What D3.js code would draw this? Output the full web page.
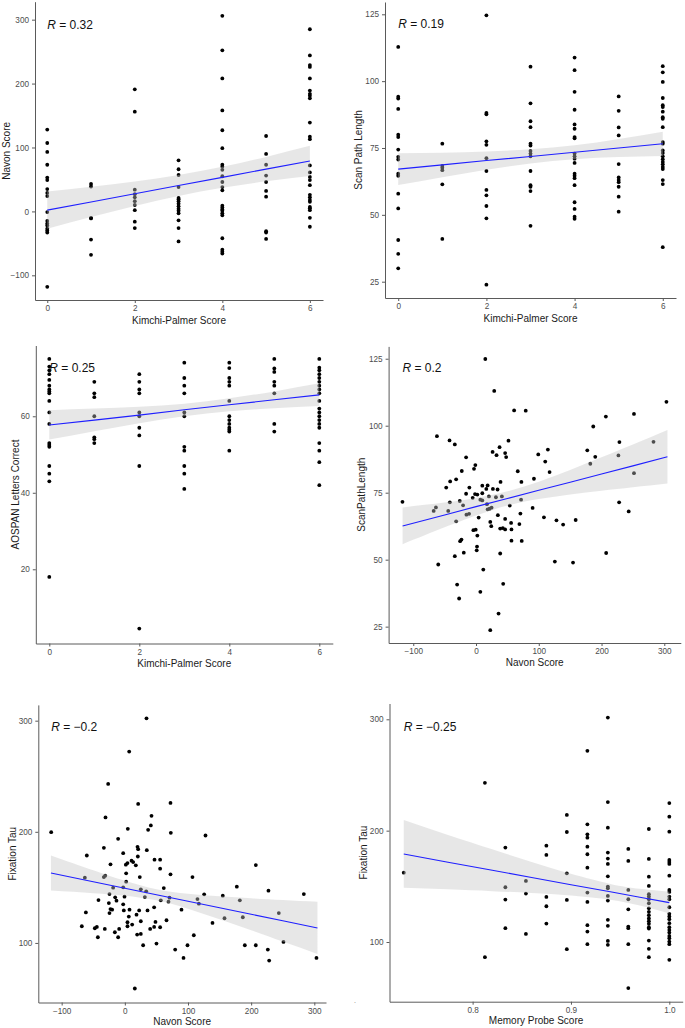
<!DOCTYPE html>
<html><head><meta charset="utf-8">
<script src="https://cdn.jsdelivr.net/npm/d3@7"></script>
<style>body{margin:0;background:#fff}svg{display:block}text{font-family:"Liberation Sans",Arial,sans-serif}</style>
</head><body><svg id="c" width="685" height="1028"></svg>
<script>
// ---------- DATA ----------
const kpLevels = [0,1,2,3,4,5,6];
const navonByKP = [
  [128,107,93,73,53,49,35,29,24,-1,-15,-19,-22,-27,-30,-33,-118],
  [43,39,-10,-11,-44,-68],
  [191,156,34,27,22,16,10,2,-16,-26],
  [80,66,57,38,21,19,16,12,8,4,1,-3,-14,-26,-47],
  [306,252,208,158,127,99,73,70,65,55,46,38,33,9,6,3,1,-3,-6,-42,-60,-63,-66],
  [118,90,73,56,46,32,23,-31,-33,-43],
  [285,244,229,226,208,189,184,181,177,139,117,113,72,61,54,49,41,26,22,18,15,7,5,2,-10,-24]
];
const scanByKP = [
  [112.8,94.2,93.5,89.6,80,79.1,74.4,71.7,70.7,65.4,64.6,57.9,52.4,40.6,35.4,30],
  [76.6,68.3,67.6,66.7,61.4,41],
  [124.6,88.1,87.6,77.5,76.2,71.2,66.4,59.3,57.3,53.3,48.7,23.9],
  [105.4,91.7,85,82.8,76.6,75.9,73.9,72.9,71.9,66.4,61.1,60.5,58.9,45.9],
  [108.8,104.1,96,89.3,83.8,82.2,79.1,78.6,72.9,71.9,71,69.4,65.4,64.6,63.7,61.1,54.7,52.2,49.3,48.5],
  [94.3,88.9,82.7,79.7,69,64,63,62.2,60.5,56.8,51.2],
  [105.6,103.3,99.7,93.7,91,90.3,88.6,86.5,85.9,82.8,77.2,76.6,74.1,73.1,71.9,70.8,69.8,68.9,67.9,67.1,63,61.5,37.9]
];
const aospanByKP = [
  [75,73,72,71,69.5,68,67,66.5,66,64,61,58,53,52.5,52,47,45,43,18],
  [69,66,65,60,54.5,54,53],
  [71,69,67,66,61,60,57,55,47,4.5],
  [74,70,68,66,61,60,52,51,47,45,41],
  [74,72.6,70,69,68,64,60,59,58,57,56.5,56,51],
  [75,72.5,71.6,69,68,66,58,56],
  [75,72.7,72,71,70,69,68,67,66,64,62,61,60,59,58,57,53,51,48,42]
];
const navon4 = [-62.3,-42.2,-33.8,51.7,37.5,26.4,32.7,46.4,48.0,-15.8,
  -1.1,-3.2,-22.7,66.5,-41.2,-31.7,-47.5,-10.6,10.0,18.5,
  16.4,39.1,72.3,92.3,-15.8,-1.6,2.1,10.0,-5.3,6.9,
  10.0,20.6,31.7,41.2,26.9,34.3,-117.2,-41.7,-25.9,-20.6,
  -63.9,-67.5,-44.3,-31.7,-15.3,-11.1,17.4,21.6,24.8,18.5,
  71.8,53.8,90.2,4.2,34.8,46.4,70.7,22.7,24.3,55.9,
  69.1,38.5,42.7,46.4,56.5,-4.2,-0.5,2.1,-23.2,-25.3,
  56.5,72.8,1.6,1.1,-19.5,-33.8,38.5,-60.2,11.6,-30.1,
  14.8,29.0,60.7,79.2,6.9,43.3,-26.9,35.9,22.7,99.2,
  110.3,114.5,117.2,108.2,125.6,128.2,138.8,154.6,158.8,177.3,
  182.1,186.8,190.0,206.9,207.4,228.0,228.5,226.9,243.3,251.7,
  251.7,282.8,303.4];
const scan4 = [96.1,94.5,93.0,94.4,92.0,90.2,89.0,89.8,88.3,88.2,
  85.3,83.9,83.1,83.0,79.2,80.0,76.9,76.9,77.6,77.7,
  76.4,79.0,79.0,80.2,74.6,74.5,74.3,74.8,73.1,72.4,
  72.1,73.6,73.3,73.6,76.4,76.2,71.6,71.4,71.9,70.3,
  69.5,68.2,68.2,64.3,66.8,67.1,70.7,69.0,69.4,68.8,
  72.4,70.2,69.3,65.7,66.6,65.2,67.2,64.1,62.5,63.7,
  63.3,61.6,61.8,61.3,61.3,61.0,61.2,59.0,57.5,56.9,
  57.1,57.0,54.9,53.5,52.6,51.3,52.3,48.2,46.3,40.7,
  124.9,113.0,105.7,105.6,38.0,41.0,35.5,29.9,23.7,89.3,
  86.6,91.1,82.7,65.8,49.3,64.7,63.1,48.9,64.8,90.8,
  85.8,99.7,88.4,103.4,52.5,71.4,93.9,88.9,68.0,104.4,
  82.3,94.0,108.9];
const navon5 = [21.1,72.3,-30.6,42.2,41.2,36.9,4.7,72.8,127.7,-10.6,
  -60.2,-33.2,20.1,21.1,34.8,-2.6,20.6,-22.7,1.6,4.2,
  10.6,13.2,17.4,47.0,55.9,55.9,2.1,72.3,107.1,23.7,
  -63.3,-33.2,-31.1,2.1,-18.5,-2.6,25.3,33.8,61.7,-24.3,
  -0.5,31.7,57.0,70.7,69.1,115.0,125.6,155.1,-41.7,-25.3,
  -15.3,-13.2,-2.6,46.4,-22.7,-20.1,22.7,35.9,-1.6,7.4,
  -61.7,-24.3,89.7,117.2,18.5,6.3,25.3,48.5,66.0,-68.1,
  -47.5,-44.3,-31.7,-9.0,4.2,4.2,11.6,46.4,55.9,40.1,
  -15.8,-42.7,-10.6,19.5,25.3,109.2,138.8,157.8,34.3,6.9,
  -26.4,-116.6,207.4,177.3,182.1,186.8,190.0,207.4,227.4,226.4,
  228.5,243.8,251.2,283.4,303.4,92.9,99.2,79.7,29.0,50.1,15.8];
const tau5 = [225.1,226.0,212.9,214.4,205.7,201.8,202.7,199.1,196.7,193.7,
  178.7,185.6,186.5,184.4,183.5,180.8,177.8,170.7,170.4,171.9,
  174.0,172.8,169.8,174.9,174.9,166.8,162.6,161.7,159.3,159.3,
  158.7,159.3,160.5,155.1,149.7,150.0,148.2,146.4,149.4,144.0,
  141.6,141.3,138.3,140.7,137.1,139.5,143.7,142.5,138.6,135.9,
  141.0,138.0,134.7,132.0,130.5,129.9,129.3,129.3,129.3,129.9,
  127.5,126.9,129.9,135.3,125.4,123.7,119.5,118.9,120.4,115.0,
  113.2,114.4,112.6,112.6,118.6,115.0,116.5,114.4,114.1,112.6,
  109.6,105.1,105.1,107.5,108.1,106.9,118.0,122.2,302.1,272.2,
  243.1,199.7,170.1,150.6,138.3,123.1,97.9,97.9,147.0,94.0,
  84.1,126.9,100.9,144.0,86.5,86.5,97.9,94.0,97.9,99.4,59.0];
const probeLevels = [0.73,0.8125,0.8333,0.8542,0.875,0.8958,0.9167,0.9375,0.9583,0.9792,1.0];
const tauByProbe = [
  [162.3],
  [243.0,86.4],
  [184.8,149.2,138.1,112.4],
  [154.9,143.5,107.3],
  [186.5,178.2,140.5,132.1,116.6],
  [214.1,198.8,161.7,137.8,93.6],
  [271.7,205.7,196.7,193.7,185.6,178.8,166.8,144.4,136.0,115.1,109.4,98.1],
  [301.6,225.7,202.7,180.3,174.9,170.1,159.0,149.8,148.3,141.4,137.2,119.9,114.5,101.0,97.5],
  [183.6,172.8,146.8,138.4,129.4,113.9,112.4,98.1,58.6],
  [201.5,174.6,158.7,150.4,142.9,140.8,138.4,134.8,130.3,127.1,124.1,121.1,118.7,116.3,113.3,112.1,101.3,93.9,86.4],
  [224.8,212.6,199.1,173.7,171.9,170.1,159.6,146.8,145.0,140.8,138.4,131.2,125.3,122.9,120.5,116.9,113.3,110.9,108.5,105.5,103.4,100.4,98.1,84.0]
];
// fitted lines and 95% bands
const fitKPX = [0,1,2,3,4,5,6];
const fit1Y = [2,14.8,27.7,40.5,53.3,66.2,79], fit1Lo = [-27,-8.8,8.6,24.1,36.9,47.1,55.4], fit1Hi = [31,38.4,46.8,56.9,69.7,85.3,102.6];
const fit2Y = [67.1,68.7,70.3,71.8,73.4,75.0,76.6], fit2Lo = [61.2,64.1,66.9,69.2,70.8,71.6,72.0], fit2Hi = [73.0,73.2,73.7,74.5,76.0,78.4,81.1];
const fit3Y = [57.7,59.0,60.3,61.7,63.0,64.3,65.6], fit3Lo = [53.9,56.1,58.2,60.0,61.3,62.1,62.7], fit3Hi = [61.6,62.0,62.5,63.3,64.7,66.5,68.6];
const fitNavX = [-117,-50,0,50,100,150,200,250,305];
const fit4Y = [62.6,66.7,69.8,72.8,75.9,78.9,82.0,85.0,88.4], fit4Lo = [55.8,62.1,66.5,70.2,72.6,74.3,75.7,77.0,78.4], fit4Hi = [69.5,71.3,73.0,75.5,79.1,83.5,88.2,93.0,98.4];
const fit5Y = [162.9,155.1,149.2,143.3,137.5,131.6,125.8,119.9,113.5], fit5Lo = [147.1,144.8,142.5,138.3,130.8,121.3,111.4,101.2,90.0], fit5Hi = [178.7,165.4,155.9,148.3,144.2,141.9,140.2,138.6,137.0];
const fitProbeX = [0.73,0.775,0.82,0.86,0.90,0.94,0.97,1.0];
const fit6Y = [179.1,171.7,164.4,158.0,151.5,145.1,140.2,135.4], fit6Lo = [148.8,147.3,145.7,144.0,141.8,137.9,132.7,125.7], fit6Hi = [209.5,196.1,183.2,171.9,161.2,152.2,147.8,145.1];
const rLabels = ["0.32","0.19","0.25","0.2","\u22120.2","\u22120.25"];
const xTitles = ["Kimchi-Palmer Score","Kimchi-Palmer Score","Kimchi-Palmer Score","Navon Score","Navon Score","Memory Probe Score"];
const yTitles = ["Navon Score","Scan Path Length","AOSPAN Letters Correct","ScanPathLength","Fixation Tau","Fixation Tau"];
const kpTicks = [0,2,4,6], navTicks = [-100,0,100,200,300], probeTicks = [0.8,0.9,1.0];
const navonYTicks = [-100,0,100,200,300], scanTicks = [25,50,75,100,125], aospanTicks = [20,40,60], tauTicks = [100,200,300];

// ---------- HELPERS ----------
function flat(levels, cols){ const o=[]; levels.forEach((l,i)=>cols[i].forEach(v=>o.push([l,v]))); return o; }
function zip(a,b){ return a.map((v,i)=>[v,b[i]]); }
function band(xs,y,lo,hi){ return xs.map((x,i)=>({x:x,y:y[i],lo:lo[i],hi:hi[i]})); }

const panels = [
 {pts:flat(kpLevels,navonByKP), fit:band(fitKPX,fit1Y,fit1Lo,fit1Hi), xd:[-0.28,6.3], xr:[35,323], yd:[-138.6,328.1], yr:[300,1.7], xt:kpTicks, yt:navonYTicks, xf:d3.format("d"), xTY:320, yTX:6},
 {pts:flat(kpLevels,scanByKP), fit:band(fitKPX,fit2Y,fit2Lo,fit2Hi), xd:[-0.3,6.3], xr:[385,676], yd:[18.9,129.6], yr:[298,2], xt:kpTicks, yt:scanTicks, xf:d3.format("d"), xTY:318.5, yTX:358},
 {pts:flat(kpLevels,aospanByKP), fit:band(fitKPX,fit3Y,fit3Lo,fit3Hi), xd:[-0.3,6.3], xr:[35.8,332.8], yd:[0.6,78.5], yr:[643.5,345.5], xt:kpTicks, yt:aospanTicks, xf:d3.format("d"), xTY:663.3, yTX:15},
 {pts:zip(navon4,scan4), fit:band(fitNavX,fit4Y,fit4Lo,fit4Hi), xd:[-139.3,326.3], xr:[388.6,680.8], yd:[18.9,129.6], yr:[643,346.4], xt:navTicks, yt:scanTicks, xf:d3.format("d"), xTY:662.3, yTX:361.5},
 {pts:zip(navon5,tau5), fit:band(fitNavX,fit5Y,fit5Lo,fit5Hi), xd:[-137,318.5], xr:[38.3,326], yd:[46.4,314.2], yr:[1002.5,704.9], xt:navTicks, yt:tauTicks, xf:d3.format("d"), xTY:1021.5, yTX:12},
 {pts:flat(probeLevels,tauByProbe), fit:band(fitProbeX,fit6Y,fit6Lo,fit6Hi), xd:[0.7155,1.0136], xr:[389.5,682.7], yd:[46.4,314.2], yr:[1001.7,703.5], xt:probeTicks, yt:tauTicks, xf:d3.format(".1f"), xTY:1020.5, yTX:363}
];

const svg = d3.select("#c");
const FONT = '"Liberation Sans", Arial, sans-serif';

panels.forEach((p,i)=>{
  const x = d3.scaleLinear().domain(p.xd).range(p.xr);
  const y = d3.scaleLinear().domain(p.yd).range(p.yr);
  const g = svg.append("g");

  // points
  g.append("g").selectAll("circle").data(p.pts).join("circle")
    .attr("cx",d=>x(d[0])).attr("cy",d=>y(d[1])).attr("r",1.9).attr("fill","#000");

  // confidence band (drawn over points, as in ggplot)
  g.append("path").datum(p.fit)
    .attr("d", d3.area().x(d=>x(d.x)).y0(d=>y(d.lo)).y1(d=>y(d.hi)).curve(d3.curveNatural))
    .attr("fill","#c4c4c4").attr("fill-opacity",0.4);

  // regression line
  g.append("path").datum(p.fit)
    .attr("d", d3.line().x(d=>x(d.x)).y(d=>y(d.y)))
    .attr("fill","none").attr("stroke","#1f1fff").attr("stroke-width",1.1);

  // axes
  const xa = g.append("g").attr("transform",`translate(0,${p.yr[0]})`)
    .call(d3.axisBottom(x).tickValues(p.xt).tickFormat(p.xf).tickSize(3).tickSizeOuter(0).tickPadding(2.5));
  const ya = g.append("g").attr("transform",`translate(${p.xr[0]},0)`)
    .call(d3.axisLeft(y).tickValues(p.yt).tickSize(3).tickSizeOuter(0).tickPadding(3));
  [xa,ya].forEach(a=>{
    a.select(".domain").attr("stroke","#5a5a5a").attr("stroke-width",1);
    a.selectAll(".tick line").attr("stroke","#5a5a5a");
    a.selectAll(".tick text").attr("fill","#4d4d4d").attr("font-size",8.2).attr("font-family",FONT);
  });

  // axis titles
  g.append("text").attr("x",(p.xr[0]+p.xr[1])/2).attr("y",p.xTY).attr("dy","0.35em")
    .attr("text-anchor","middle").attr("font-size",10).attr("fill","#1a1a1a").attr("font-family",FONT)
    .text(xTitles[i]);
  g.append("text").attr("transform",`translate(${p.yTX},${(p.yr[0]+p.yr[1])/2}) rotate(-90)`).attr("dy","0.35em")
    .attr("text-anchor","middle").attr("font-size",10).attr("fill","#1a1a1a").attr("font-family",FONT)
    .text(yTitles[i]);

  // correlation label at (min x, max y)
  const xmin = d3.min(p.pts,d=>d[0]), ymax = d3.max(p.pts,d=>d[1]);
  const t = g.append("text").attr("x",x(xmin)).attr("y",y(ymax)+13)
    .attr("font-size",12).attr("fill","#111").attr("font-family",FONT);
  t.append("tspan").attr("font-style","italic").text("R");
  t.append("tspan").text(" = " + rLabels[i]);
});

// small stray mark present in the original figure
svg.append("text").attr("x",354).attr("y",1003).attr("font-size",7).attr("fill","#777").attr("font-family",FONT).text(".");
</script></body></html>
